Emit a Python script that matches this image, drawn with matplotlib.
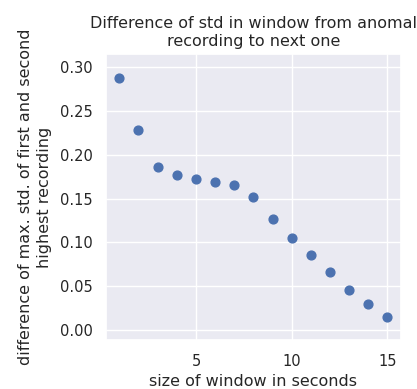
import matplotlib
matplotlib.use("Agg")
import matplotlib.pyplot as plt
from matplotlib.ticker import MultipleLocator
import seaborn as sns

# window size (s) vs difference of max std between first and second recording
window_sizes = [1, 2, 3, 4, 5, 6, 7, 8, 9, 10, 11, 12, 13, 14, 15]
std_diff = [0.288, 0.228, 0.186, 0.177, 0.172, 0.169, 0.166, 0.152,
            0.127, 0.105, 0.086, 0.066, 0.046, 0.029, 0.015]

sns.set_theme(style="darkgrid")
plt.rcParams['font.family'] = ['DejaVu Sans']
plt.rcParams['xtick.labelsize'] = 10.5
plt.rcParams['ytick.labelsize'] = 10.5
plt.rcParams['axes.labelsize'] = 11.5
plt.rcParams['axes.titlesize'] = 11.5

fig = plt.figure(figsize=(4.17, 3.89), dpi=100)
ax = fig.add_axes([0.254, 0.1247, 0.7074, 0.7365])

ax.scatter(window_sizes, std_diff, s=40, color='#4C72B0')
ax.margins(y=0.1)
ax.xaxis.set_major_locator(MultipleLocator(5))

ax.set_title("Difference of std in window from anomal\nrecording to next one")
ax.set_xlabel("size of window in seconds")
ax.set_ylabel("difference of max. std. of first and second\nhighest recording",
              labelpad=6, linespacing=1.3)

fig.savefig("out.png", dpi=100)
